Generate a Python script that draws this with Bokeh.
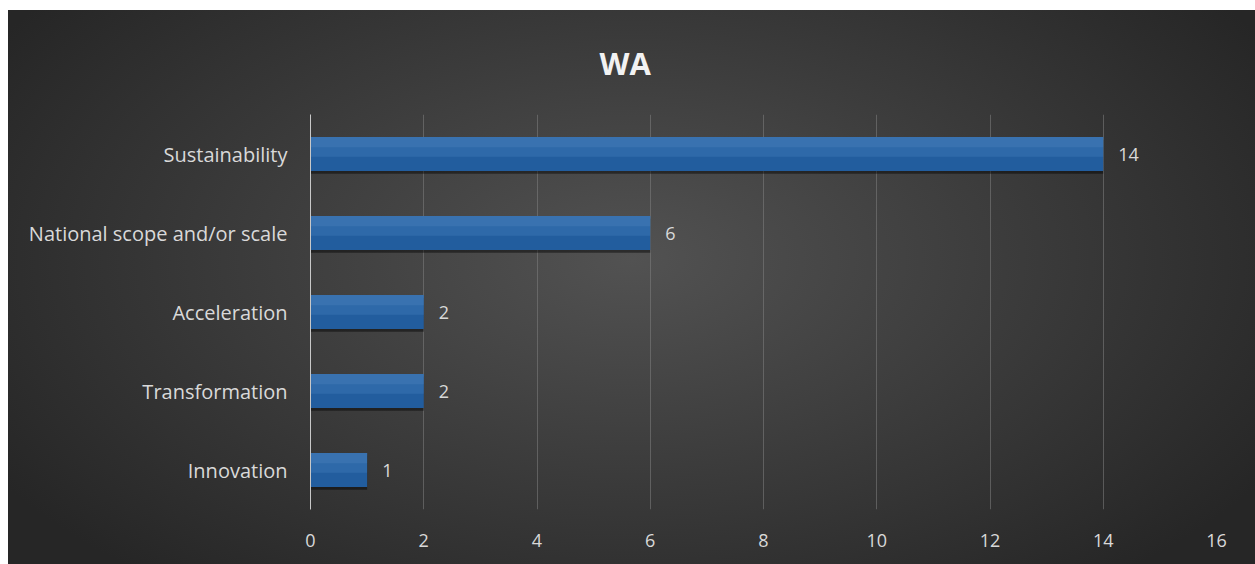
from bokeh.plotting import figure
from bokeh.models import ColumnDataSource, FactorRange, Range1d, FixedTicker, LabelSet
from bokeh.transform import dodge
from bokeh.core.properties import value
from bokeh.embed import file_html
from bokeh.resources import INLINE

# ---- data ----
categories = ["Innovation", "Transformation", "Acceleration",
              "National scope and/or scale", "Sustainability"]
values = [1, 2, 2, 6, 14]
x_ticks = [0, 2, 4, 6, 8, 10, 12, 14, 16]
title_text = "WA"

src = ColumnDataSource(dict(cat=categories, val=values,
                            label=[str(v) for v in values]))

FONT = "Open Sans"
TXT = "#d9d9d9"

p = figure(width=1247, height=554,
           y_range=FactorRange(*categories),
           x_range=Range1d(x_ticks[0], x_ticks[-1]),
           output_backend="svg", toolbar_location=None,
           min_border_left=302, min_border_right=39,
           min_border_top=104, min_border_bottom=55)
p.margin = (10, 0, 0, 8)

p.styles = {"background": "radial-gradient(ellipse 60% 75% at 50% 45%, #525252 0%, #3c3c3c 50%, #262626 100%)"}
p.background_fill_alpha = 0
p.border_fill_alpha = 0
p.outline_line_color = None

# title
p.title.text = title_text
p.title.align = "left"
p.title.offset = 289
p.title.text_font = FONT
p.title.text_font_style = "bold"
p.title.text_font_size = "31px"
p.title.text_color = "#f2f2f2"
p.title.vertical_align = "middle"
p.title.standoff = 60

# bars: shadow, body, highlight
p.hbar(y=dodge("cat", -0.035, range=p.y_range), right="val", left=0, height=0.43,
       source=src, fill_color="black", fill_alpha=0.45, line_color=None)
p.hbar(y="cat", right="val", left=0, height=0.43, source=src,
       fill_color="#225d9e", line_color=None)
p.hbar(y=dodge("cat", 0.09, range=p.y_range), right="val", left=0, height=0.25,
       source=src, fill_color="#4d86c3", fill_alpha=0.3, line_color=None)
p.hbar(y=dodge("cat", 0.15, range=p.y_range), right="val", left=0, height=0.13,
       source=src, fill_color="#5a90c9", fill_alpha=0.25, line_color=None)

labels = LabelSet(x="val", y="cat", text="label", source=src,
                  x_offset=15, text_baseline="middle", text_align="left",
                  text_color=TXT, text_font=value(FONT), text_font_size="18px")
p.add_layout(labels)

# axes
p.xaxis.ticker = FixedTicker(ticks=x_ticks)
p.xaxis.axis_line_color = None
p.xaxis.major_tick_line_color = None
p.xaxis.minor_tick_line_color = None
p.xaxis.major_label_text_color = TXT
p.xaxis.major_label_text_font = FONT
p.xaxis.major_label_text_font_size = "18px"
p.xaxis.major_label_standoff = 18

p.yaxis.axis_line_color = "#c8c8c8"
p.yaxis.axis_line_width = 1
p.yaxis.major_tick_line_color = None
p.yaxis.minor_tick_line_color = None
p.yaxis.major_label_text_color = TXT
p.yaxis.major_label_text_font = FONT
p.yaxis.major_label_text_font_size = "20px"
p.yaxis.major_label_standoff = 17

p.xgrid.ticker = FixedTicker(ticks=x_ticks)
p.xgrid.grid_line_color = "#808080"
p.xgrid.grid_line_alpha = 0.55
p.ygrid.grid_line_color = None

open("out.html", "w").write(file_html(p, INLINE))
